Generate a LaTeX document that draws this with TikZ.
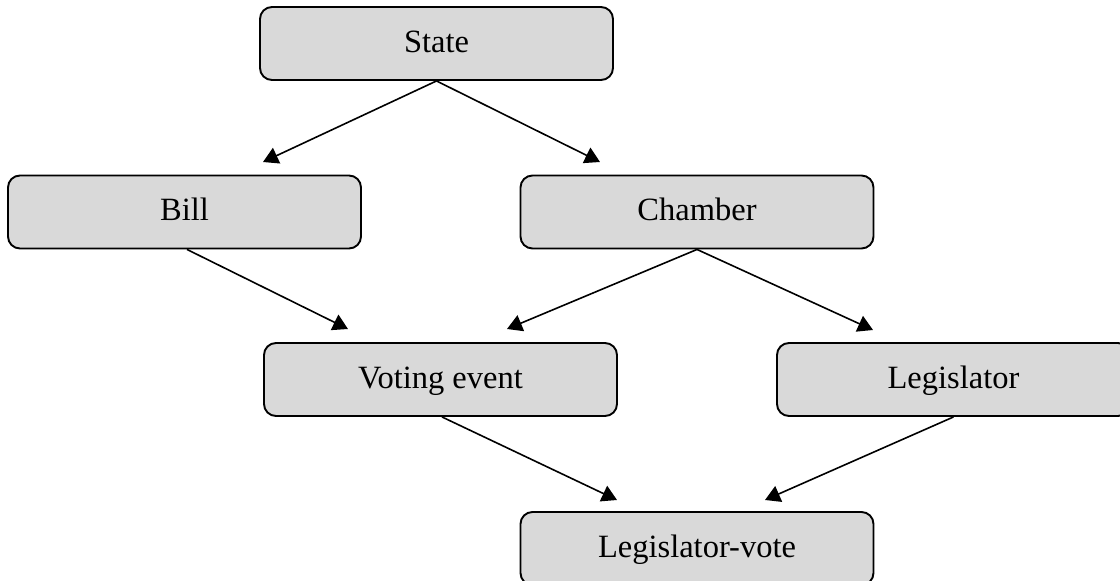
\documentclass[tikz,border=0pt]{standalone}
\usepackage{fontspec}
\setmainfont{Liberation Serif}
\usetikzlibrary{arrows.meta}
\definecolor{boxfill}{HTML}{D9D9D9}
\tikzset{
  entity/.style={draw=black, line width=1.9pt, fill=boxfill, rounded corners=12pt,
    minimum width=353pt, minimum height=73pt, inner sep=0pt,
    font=\fontsize{32.5}{37}\selectfont, text height=21pt, text depth=4pt},
  link/.style={line width=1.6pt, -{Triangle[width=17pt,length=15pt]}}
}
\begin{document}
\begin{tikzpicture}[x=1pt,y=-1pt]
\useasboundingbox (0,0) rectangle (1120,581);
\clip (0,0) rectangle (1120,581);
\node[entity] (state) at (436.5,43.5) {State};
\node[entity] (bill) at (184.5,212) {Bill};
\node[entity] (chamber) at (697,212) {Chamber};
\node[entity] (voting) at (440.5,379.5) {Voting event};
\node[entity] (legis) at (953.5,379.5) {Legislator};
\node[entity] (lvote) at (697,548.5) {Legislator-vote};
\coordinate (t1) at (263,162);
\coordinate (t2) at (600,162);
\coordinate (t3) at (348,329);
\coordinate (t4) at (507,329);
\coordinate (t5) at (873,330);
\coordinate (t6) at (617,500);
\coordinate (t7) at (765,500);
\draw[link] (state.south) -- (t1);
\draw[link] (state.south) -- (t2);
\draw[link] ([xshift=2.5pt]bill.south) -- (t3);
\draw[link] (chamber.south) -- (t4);
\draw[link] (chamber.south) -- (t5);
\draw[link] ([xshift=1.5pt]voting.south) -- (t6);
\draw[link] (legis.south) -- (t7);
\end{tikzpicture}
\end{document}
